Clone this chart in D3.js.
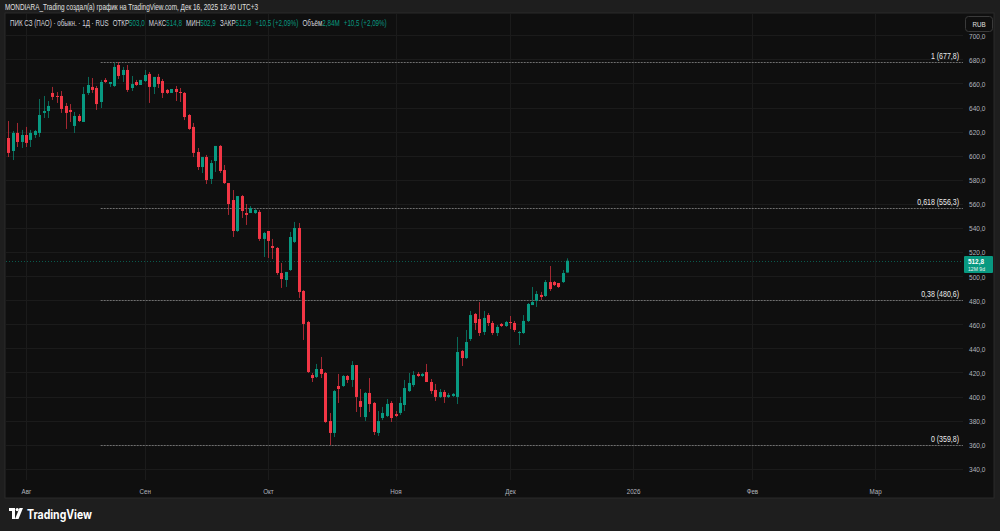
<!DOCTYPE html>
<html><head><meta charset="utf-8">
<script src="https://cdn.jsdelivr.net/npm/d3@7"></script>
<style>
html,body{margin:0;padding:0;background:#1e1e1e;}
svg{display:block;font-family:"Liberation Sans","Noto Sans",sans-serif;}
</style></head><body>
<svg id="c" width="1000" height="531"></svg>
<script>
// ---- data ----
const open = [614.7,603.9,618.9,611.4,617.2,613.1,617.2,618.9,635.5,637.1,
652.1,649.6,649.6,641.3,638.0,624.7,633.0,628.0,652.1,657.1,
656.2,644.6,662.9,659.5,657.9,675.3,667.0,671.2,656.2,661.2,
658.7,662.0,667.9,657.1,665.4,662.0,654.6,652.1,655.4,652.9,
652.1,633.8,623.9,603.1,590.6,598.9,580.7,595.6,608.1,588.1,
577.3,563.2,537.5,566.5,552.4,552.4,552.4,553.3,530.9,537.5,
525.0,523.4,502.6,496.8,505.1,528.4,540.0,487.7,461.9,417.9,
416.3,422.9,419.6,379.7,369.8,408.8,408.8,417.1,413.8,426.2,
396.3,383.0,403.0,394.7,369.8,382.2,383.9,394.7,385.5,386.4,
393.0,404.6,409.6,418.8,417.1,420.4,412.1,405.5,399.7,403.8,
399.7,400.5,399.7,437.9,432.0,447.8,468.6,464.4,453.6,467.7,
461.1,452.8,460.3,458.6,461.9,461.1,452.8,452.8,462.8,476.0,
479.4,484.4,483.5,495.1,495.1,494.3,495.1,503.0];
const high = [628.8,620.5,627.2,621.4,623.9,621.4,621.4,647.1,649.6,645.4,
657.1,652.9,653.7,643.8,642.9,636.3,634.6,657.1,665.4,664.5,
657.9,662.9,664.5,661.2,677.0,677.8,673.7,675.3,666.2,662.9,
662.9,671.2,669.5,665.4,667.9,663.7,655.4,655.4,657.9,656.2,
652.9,634.6,627.2,606.4,599.0,600.6,596.4,608.1,608.9,592.3,
577.3,571.5,566.5,567.4,559.9,558.2,555.7,554.9,536.7,537.5,
530.9,524.2,510.9,503.5,536.7,545.0,544.1,488.5,462.8,419.6,
427.1,432.9,420.4,386.4,405.5,418.8,417.9,417.9,429.5,426.2,
406.3,403.8,415.4,395.5,388.0,391.4,398.0,396.3,388.0,399.7,
413.8,419.6,421.2,420.4,419.6,427.1,414.6,410.5,406.3,405.5,
403.0,403.0,449.5,438.7,455.3,471.1,469.4,478.5,471.1,469.4,
462.8,459.4,461.1,462.8,466.9,462.8,454.5,467.7,477.7,491.0,
487.7,486.9,496.8,508.4,496.0,494.3,505.1,514.8];
const low = [598.9,596.4,607.2,606.4,607.2,607.2,614.7,615.6,631.3,631.3,
646.3,643.8,635.5,622.2,628.0,618.9,628.0,628.0,650.4,652.1,
638.0,639.6,660.4,657.1,657.1,663.7,661.2,652.9,653.7,657.9,
658.7,661.2,643.8,651.2,656.2,647.9,651.2,652.1,645.4,644.6,
629.6,621.4,598.9,588.1,585.6,576.5,576.5,586.5,585.6,576.5,
550.8,532.5,536.7,548.3,542.5,552.4,551.6,529.2,515.9,515.1,
514.2,501.0,490.2,491.0,504.3,527.5,481.9,447.0,419.6,412.1,
415.4,415.4,378.1,359.8,366.4,394.7,408.0,411.3,408.0,387.2,
383.0,379.7,387.2,368.1,367.3,380.5,383.0,378.9,383.0,384.7,
388.0,403.8,408.0,416.3,416.3,412.1,402.2,396.3,398.8,394.7,
398.8,399.7,393.8,425.4,431.2,446.2,455.3,450.3,451.1,458.6,
451.1,450.3,457.8,457.8,456.1,453.6,442.8,452.0,461.9,476.0,
474.4,480.2,482.7,487.7,491.8,490.2,494.3,502.9];
const close = [602.3,618.9,611.4,617.2,610.6,618.9,620.5,633.8,637.1,641.3,
648.8,648.8,638.8,635.5,636.3,633.0,628.8,651.2,658.7,654.6,
642.9,661.2,661.2,661.2,673.7,666.2,671.2,654.6,659.5,658.7,
662.9,667.0,657.1,665.4,659.5,652.1,652.1,655.4,652.9,652.1,
632.1,622.2,602.3,590.6,598.9,579.8,593.9,608.1,587.3,577.3,
559.9,537.5,566.5,554.1,550.8,556.6,554.9,530.9,535.8,529.2,
523.4,502.6,497.6,503.5,532.5,540.0,486.8,460.3,420.4,415.4,
422.9,418.8,378.9,369.8,404.6,406.3,417.1,413.8,426.2,399.7,
391.4,403.0,393.8,370.6,379.7,386.4,393.9,382.2,383.9,394.7,
407.1,411.3,417.9,417.1,418.8,412.1,404.6,399.7,403.8,399.7,
401.3,402.2,437.0,432.0,445.3,467.7,461.1,452.8,465.3,461.1,
452.8,457.8,458.6,461.9,461.1,455.3,453.6,462.8,476.9,478.5,
485.2,482.7,495.1,489.3,492.6,491.0,502.6,512.8];

const monthLabels = ["Авг","Сен","Окт","Ноя","Дек","2026","Фев","Мар"];
const monthBarIndex = [4,31,59,88,114,142,169,197];
const priceTicks = [340,360,380,400,420,440,460,480,500,520,540,560,580,600,620,640,660,680,700];
const fibRatios = ["1","0,618","0,38","0"];
const fibValues = [677.8,556.3,480.6,359.8];
const fibStartBar = 21;
const lastPrice = 512.8;
const countdown = "12M 9d";
const title = "MONDIARA_Trading создал(а) график на TradingView.com, Дек 16, 2025 19:40 UTC+3";
const legendName = "ПИК СЗ (ПАО) · обыкн. · 1Д · RUS";
const legendItems = [["ОТКР","503,0"],["МАКС","514,8"],["МИН","502,9"],["ЗАКР","512,8"],["","+10,5 (+2,09%)"],["Объём","2,84M"],["","+10,5 (+2,09%)"]];

// ---- drawing ----
const UP="#089981", DOWN="#f23645";
const svg = d3.select("#c");
const fmt = v => v.toFixed(1).replace(".", ",");
const pane = {l:5, r:994, t:13, b:498};
const plotR = 963;
const NARROW = 0.78;
function squeeze(sel, k){
  sel.each(function(){
    const L = this.getComputedTextLength();
    d3.select(this).attr("textLength", L*k).attr("lengthAdjust","spacingAndGlyphs");
  });
}

svg.append("rect").attr("x",0).attr("y",0).attr("width",1000).attr("height",531).attr("fill","#1e1e1e");
svg.append("rect").attr("x",pane.l).attr("y",pane.t).attr("width",pane.r-pane.l).attr("height",pane.b-pane.t)
  .attr("fill","#0f0f0f").attr("stroke","#2a2a2a").attr("stroke-width",1);

const x = d3.scaleLinear().domain([0, 127]).range([8.3, 567.1]);
const y = d3.scaleLinear().domain([359.8, 677.8]).range([445, 62]);

// grid
const g = svg.append("g");
g.selectAll("line.h").data(priceTicks).join("line")
  .attr("x1",pane.l+1).attr("x2",plotR).attr("y1",d=>Math.round(y(d))+0.5).attr("y2",d=>Math.round(y(d))+0.5)
  .attr("stroke","#1b1b1b");
g.selectAll("line.v").data(monthBarIndex).join("line")
  .attr("y1",pane.t+1).attr("y2",480).attr("x1",d=>Math.round(x(d))+0.5).attr("x2",d=>Math.round(x(d))+0.5)
  .attr("stroke","#1b1b1b");

// price axis
const yAxis = d3.axisRight(y).tickValues(priceTicks).tickFormat(fmt).tickSize(0).tickPadding(0);
const ya = svg.append("g").attr("transform",`translate(969,0.5)`).call(yAxis);
ya.select(".domain").remove();
ya.selectAll("text").attr("fill","#b2b5be").attr("font-size","7.5px").attr("font-family","'Liberation Sans',sans-serif");
squeeze(ya.selectAll("text"), 0.87);

// time axis
const xAxis = d3.axisBottom(x).tickValues(monthBarIndex).tickFormat((d,i)=>monthLabels[i]).tickSize(0).tickPadding(0);
const xa = svg.append("g").attr("transform",`translate(0,488)`).call(xAxis);
xa.select(".domain").remove();
xa.selectAll("text").attr("fill","#b2b5be").attr("font-size","8px").attr("font-family","'Liberation Sans',sans-serif");
squeeze(xa.selectAll("text"), NARROW);

// fib lines
const fg = svg.append("g");
fibValues.forEach((v,i)=>{
  const yy = Math.round(y(v))+0.5;
  fg.append("line").attr("x1",x(fibStartBar)).attr("x2",plotR).attr("y1",yy).attr("y2",yy)
    .attr("stroke","#6f6f6f").attr("stroke-width",1).attr("stroke-dasharray","2,1");
  fg.append("g").attr("transform",`translate(959,${yy-4}) scale(${NARROW},1)`)
    .append("text").attr("x",0).attr("y",0).attr("text-anchor","end")
    .attr("fill","#ececec").attr("font-size","9px").text(`${fibRatios[i]} (${fmt(v)})`);
});

// last price line
const ly = Math.round(y(lastPrice))+0.5;
svg.append("line").attr("x1",pane.l+1).attr("x2",plotR).attr("y1",ly).attr("y2",ly)
  .attr("stroke",UP).attr("stroke-opacity",0.55).attr("stroke-dasharray","1,2");

// candles
const idx = d3.range(open.length);
const cg = svg.append("g");
cg.selectAll("line").data(idx).join("line")
  .attr("x1",i=>Math.round(x(i))+0.5).attr("x2",i=>Math.round(x(i))+0.5)
  .attr("y1",i=>y(high[i])).attr("y2",i=>y(low[i]))
  .attr("stroke",i=>close[i]>=open[i]?UP:DOWN).attr("stroke-opacity",0.65).attr("stroke-width",1);
cg.selectAll("rect").data(idx).join("rect")
  .attr("x",i=>Math.round(x(i))-1).attr("width",3)
  .attr("y",i=>y(Math.max(open[i],close[i])))
  .attr("height",i=>Math.max(1,Math.abs(y(open[i])-y(close[i]))))
  .attr("fill",i=>close[i]>=open[i]?UP:DOWN);

// price badge
svg.append("rect").attr("x",964).attr("y",ly-5.5).attr("width",29).attr("height",17).attr("rx",1).attr("fill",UP);
const b1 = svg.append("text").attr("x",968).attr("y",ly+2.1).attr("fill","#fff").attr("font-size","7.5px").attr("font-weight","bold").text(fmt(lastPrice));
const b2 = svg.append("text").attr("x",968).attr("y",ly+9.1).attr("fill","#e8f5f2").attr("font-size","6px").text(countdown);
squeeze(b1, 0.85); squeeze(b2, 0.85);

// RUB box
svg.append("rect").attr("x",965.5).attr("y",16.5).attr("width",27).attr("height",15).attr("rx",3)
  .attr("fill","#0f0f0f").attr("stroke","#3a3a3a");
const rub = svg.append("text").attr("x",979).attr("y",26.5).attr("text-anchor","middle").attr("fill","#e0e0e0").attr("font-size","8px").text("RUB");
squeeze(rub, NARROW);

// header
svg.append("text").attr("x",5).attr("y",10).attr("fill","#e0e0e0").attr("font-size","9px")
  .attr("textLength",253).attr("lengthAdjust","spacingAndGlyphs").text(title);
const lgG = svg.append("g");
const lg = lgG.append("text").attr("x",0).attr("y",0).attr("font-size","9px").attr("fill","#d1d4dc");
lg.append("tspan").text(legendName);
legendItems.forEach(([k,v])=>{
  if (k) {
    lg.append("tspan").attr("dx", 6).attr("fill","#d1d4dc").text(k);
    lg.append("tspan").attr("fill",UP).text(v);
  } else {
    lg.append("tspan").attr("dx", 6).attr("fill",UP).text(v);
  }
});
const lw = lg.node().getBBox().width;
lgG.attr("transform",`translate(10,25.5) scale(${377/lw},1)`);

// logo
const logo = svg.append("g").attr("transform","translate(9,508)");
logo.append("path").attr("d","M0,0 H6 V11 H3 V3 H0 Z").attr("fill","#fff");
logo.append("circle").attr("cx",8.2).attr("cy",1.6).attr("r",1.6).attr("fill","#fff");
logo.append("path").attr("d","M10.5,0 H14 L9.5,11 H6 Z").attr("fill","#fff");
svg.append("text").attr("x",27).attr("y",519).attr("fill","#fff").attr("font-size","12.5px").attr("font-weight","bold")
  .attr("font-family","Inter,'Noto Sans',sans-serif").attr("textLength",65).attr("lengthAdjust","spacingAndGlyphs").text("TradingView");
</script>
</body></html>
